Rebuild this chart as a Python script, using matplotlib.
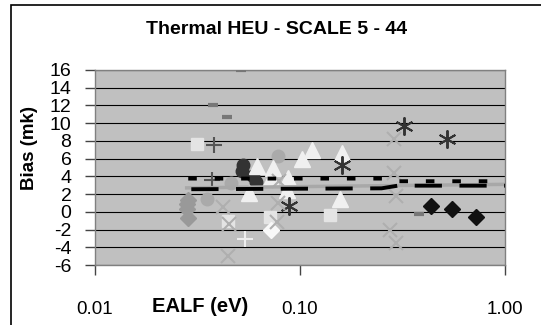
import matplotlib
matplotlib.use("Agg")
import matplotlib.pyplot as plt
from matplotlib.patches import Rectangle

plt.rcParams['font.family'] = ['Liberation Sans', 'DejaVu Sans']

title = "Thermal HEU - SCALE 5 - 44"
xlabel = "EALF (eV)"
ylabel = "Bias (mk)"
xticks = [0.01, 0.1, 1.0]
xticklabels = ["0.01", "0.10", "1.00"]
yticks = list(range(-6, 17, 2))

# scatter series: (EALF, bias)
gray_diamond_x = [0.0285, 0.0282, 0.0280, 0.0283]
gray_diamond_y = [1.3, 0.9, 0.3, -0.7]
black_diamond_x = [0.434, 0.553, 0.719]
black_diamond_y = [0.7, 0.3, -0.55]
dark_circle_x = [0.0519, 0.0529, 0.0589, 0.0610]
dark_circle_y = [4.6, 5.3, 4.0, 3.4]
gray_circle_x = [0.0352, 0.0462, 0.0780]
gray_circle_y = [1.4, 3.3, 6.3]
white_tri_x = [0.0616, 0.0565, 0.0735, 0.0720, 0.0870, 0.0860, 0.1020, 0.1150, 0.1600, 0.1570]
white_tri_y = [5.2, 2.1, 5.0, 3.8, 3.8, 2.5, 6.0, 7.0, 6.6, 1.4]
light_square_x = [0.0313, 0.0444, 0.1400, 0.0715]
light_square_y = [7.7, -1.05, -0.4, -0.6]
white_diamond_x = [0.0721]
white_diamond_y = [-2.1]
asterisk_x = [0.0885, 0.1600, 0.3210, 0.5210]
asterisk_y = [0.7, 5.3, 9.7, 8.2]
dark_plus_x = [0.0380, 0.0372]
dark_plus_y = [7.5, 3.6]
light_plus_x = [0.0540]
light_plus_y = [-3.1]
light_x_x = [0.0419, 0.0444, 0.0450, 0.0790, 0.0780, 0.0770, 0.2860, 0.2860, 0.2940, 0.2750, 0.2940]
light_x_y = [0.5, -5.0, -1.4, 3.5, 1.0, -1.1, 8.2, 4.4, 1.8, -2.0, -3.5]
dash_x = [0.0513, 0.0378, 0.0438, 0.3790]
dash_y = [16.0, 12.0, 10.7, -0.25]

# trend lines
dotted_x = [0.0285, 0.27, 0.30, 1.0]
dotted_y = [3.75, 3.75, 3.45, 3.45]
longdash_x = [0.0295, 0.25, 0.30, 1.0]
longdash_y = [2.55, 2.65, 2.95, 2.95]
grayline_x = [0.028, 1.0]
grayline_y = [2.7, 3.1]

fig = plt.figure(figsize=(5.41, 3.25), dpi=100)
fig.patch.set_facecolor('white')
ax = fig.add_axes([95/541, 1-265/325, 410/541, 195/325])
ax.set_facecolor('#C0C0C0')
ax.set_xscale('log')
ax.set_xlim(0.01, 1.0)
ax.set_ylim(-6, 16)

for y in yticks:
    ax.axhline(y, color='black', lw=0.8, zorder=1)

ms = 8
ax.plot(gray_diamond_x, gray_diamond_y, 'D', color='#999999', ms=ms, ls='none', zorder=3)
ax.plot(black_diamond_x, black_diamond_y, 'D', color='#111111', ms=ms, ls='none', zorder=3)
ax.plot(dark_circle_x, dark_circle_y, 'o', color='#333333', ms=ms+1, ls='none', zorder=3)
ax.plot(gray_circle_x, gray_circle_y, 'o', color='#AAAAAA', ms=ms+1, ls='none', zorder=3)
ax.plot(white_tri_x, white_tri_y, '^', color='#F0F0F0', ms=ms+3, ls='none', zorder=3)
ax.plot(light_square_x, light_square_y, 's', color='#E4E4E4', ms=ms, ls='none', zorder=3)
ax.plot(white_diamond_x, white_diamond_y, 'D', color='#F8F8F8', ms=ms, ls='none', zorder=3)
ax.plot(asterisk_x, asterisk_y, color='#333333', ms=13, ls='none', zorder=3,
        marker=(6, 2, 0), mew=1.4)
ax.plot(dark_plus_x, dark_plus_y, '+', color='#555555', ms=11, mew=1.5, ls='none', zorder=3)
ax.plot(light_plus_x, light_plus_y, '+', color='#EEEEEE', ms=11, mew=1.5, ls='none', zorder=3)
ax.plot(light_x_x, light_x_y, 'x', color='#AFAFAF', ms=10, mew=1.5, ls='none', zorder=3)
ax.plot(dash_x, dash_y, '_', color='#777777', ms=7, mew=3, ls='none', zorder=3)

ax.plot(grayline_x, grayline_y, color='#A8A8A8', lw=2.5, zorder=4)
ax.plot(longdash_x, longdash_y, color='black', lw=2.8, ls=(0, (7.0, 4.5)),
        solid_capstyle='butt', dash_capstyle='butt', zorder=5)
ax.plot(dotted_x, dotted_y, color='black', lw=2.8, ls=(0, (2.2, 4.6)),
        dash_capstyle='butt', zorder=5)

for s in ax.spines.values():
    s.set_color('#808080')
    s.set_linewidth(1.0)

ax.set_xticks(xticks)
ax.set_xticklabels(xticklabels)
ax.minorticks_off()
ax.tick_params(axis='x', which='major', direction='out', length=7, width=1,
               color='#444444', pad=19, labelsize=13.5)
ax.set_yticks(yticks)
ax.set_yticklabels([str(v) for v in yticks])
ax.tick_params(axis='y', direction='out', length=7, width=1, color='#444444',
               pad=10, labelsize=14)

fig.text(277/541, 1 - 30/325, title, ha='center', va='center',
         fontsize=14, fontweight='bold')
fig.text(200/541, 1 - 307/325, xlabel, ha='center', va='center',
         fontsize=14.5, fontweight='bold')
fig.text(29/541, 1 - 148/325, ylabel, ha='center', va='center', rotation=90,
         fontsize=13.5, fontweight='bold')

fig.patches.append(Rectangle((11/541, -0.1), 1.2, (1 - 5/325) + 0.1,
                             transform=fig.transFigure, fill=False,
                             edgecolor='black', lw=1.2, zorder=0))

fig.savefig('out.png', dpi=100)
